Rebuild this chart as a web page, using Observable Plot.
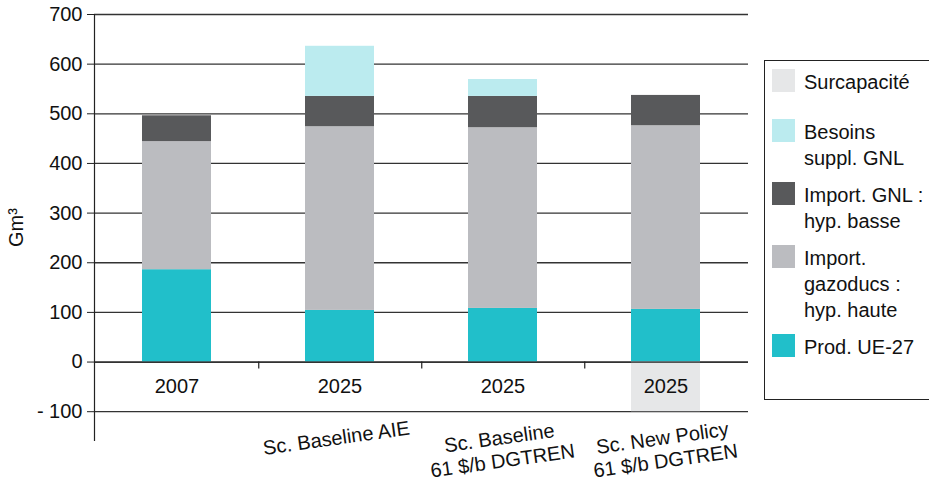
<!DOCTYPE html>
<html><head><meta charset="utf-8">
<script src="https://cdn.jsdelivr.net/npm/d3@7"></script>
<script src="https://cdn.jsdelivr.net/npm/@observablehq/plot@0.6"></script>
<style>
html,body{margin:0;padding:0;background:#fff;overflow:hidden;}
#wrap{position:relative;width:929px;height:491px;font-family:"Liberation Sans",Arial,Helvetica,sans-serif;color:#111;}
#legend{position:absolute;left:764px;top:60px;width:190px;height:340px;border:1px solid #222;box-sizing:border-box;padding-top:8px;}
.item{display:flex;align-items:flex-start;}
.sw{width:23px;height:23px;margin-left:7px;margin-right:9px;flex:none;}
.lb{font-size:20px;line-height:26px;white-space:pre;margin-top:0px;}
</style></head>
<body><div id="wrap"><div id="legend"></div></div>
<script>
const categories = ["2007", "Baseline AIE", "Baseline DGTREN", "New Policy DGTREN"];
const years = ["2007", "2025", "2025", "2025"];
const scenarios = ["", "Sc. Baseline AIE", "Sc. Baseline\n61 $/b DGTREN", "Sc. New Policy\n61 $/b DGTREN"];
const seriesNames = ["Prod. UE-27", "Import. gazoducs : hyp. haute", "Import. GNL : hyp. basse", "Besoins suppl. GNL", "Surcapacité"];
const prod = [186, 104, 108, 106];
const gazoducs = [258, 370, 364, 370];
const gnl = [52, 61, 63, 61];
const besoins = [0, 101, 34, 0];
const surcapacite = [0, 0, 0, -100];
const colors = ["#21bfca", "#bbbcc0", "#58595b", "#bbebef", "#e6e7e8"];
const yTicks = [-100, 0, 100, 200, 300, 400, 500, 600, 700];
const legendLabels = ["Surcapacité", "Besoins\nsuppl. GNL", "Import. GNL :\nhyp. basse", "Import.\ngazoducs :\nhyp. haute", "Prod. UE-27"];

const seriesValues = [prod, gazoducs, gnl, besoins, surcapacite];
const rows = [];
seriesNames.forEach((s, j) => categories.forEach((c, i) => {
  const v = seriesValues[j][i];
  if (v !== 0) rows.push({cat: c, series: s, value: v});
}));

const W = 929, H = 491, mL = 94, mR = 181, mT = 14, mB = 51;
const halfStep = (W - mL - mR) / categories.length / 2;
const fmt = d => d < 0 ? "- " + Math.abs(d) : String(d);

const chart = Plot.plot({
  width: W, height: H,
  marginLeft: mL, marginRight: mR, marginTop: mT, marginBottom: mB,
  style: {fontFamily: "'Liberation Sans', Arial, sans-serif", fontSize: "20px", color: "#111", background: "transparent"},
  x: {domain: categories, paddingInner: 0.578, paddingOuter: 0.289, axis: null},
  y: {domain: [-158, 700]},
  color: {domain: seriesNames, range: colors},
  marks: [
    Plot.gridY(yTicks, {stroke: "#333", strokeOpacity: 1, strokeWidth: 1.3}),
    Plot.axisY(yTicks, {tickSize: 7, tickPadding: 5, tickFormat: fmt, fontSize: 20, label: "Gm³", labelAnchor: "center", labelArrow: "none", labelOffset: 86, stroke: "#222"}),
    Plot.frame({anchor: "left", stroke: "#222", strokeWidth: 1.2}),
    Plot.barY(rows, {x: "cat", y: "value", fill: "series", order: seriesNames}),
    Plot.ruleY([0], {stroke: "#222", strokeWidth: 1.3}),
    Plot.ruleX(categories.slice(0, -1), {x: d => d, dx: halfStep, y1: 0, y2: -14, stroke: "#222", strokeWidth: 1.2}),
    Plot.text(categories, {x: d => d, y: 0, dy: 25, text: (d, i) => years[i], fontSize: 20, fill: "#111"}),
    Plot.text(categories, {x: d => d, text: (d, i) => scenarios[i], frameAnchor: "bottom", rotate: -8, lineAnchor: "top", dy: -12, dx: -5, lineHeight: 1.15, fontSize: 20, fill: "#111"})
  ]
});
chart.style.position = "absolute";
chart.style.left = "0px";
chart.style.top = "0px";
document.getElementById("wrap").prepend(chart);

const legendColors = colors.slice().reverse();
const leg = d3.select("#legend");
legendLabels.forEach((l, i) => {
  const it = leg.append("div").attr("class", "item").style("margin-bottom", i === 0 ? "24px" : "11px");
  it.append("div").attr("class", "sw").style("background", legendColors[i]);
  it.append("div").attr("class", "lb").text(l);
});
</script>
</body></html>
